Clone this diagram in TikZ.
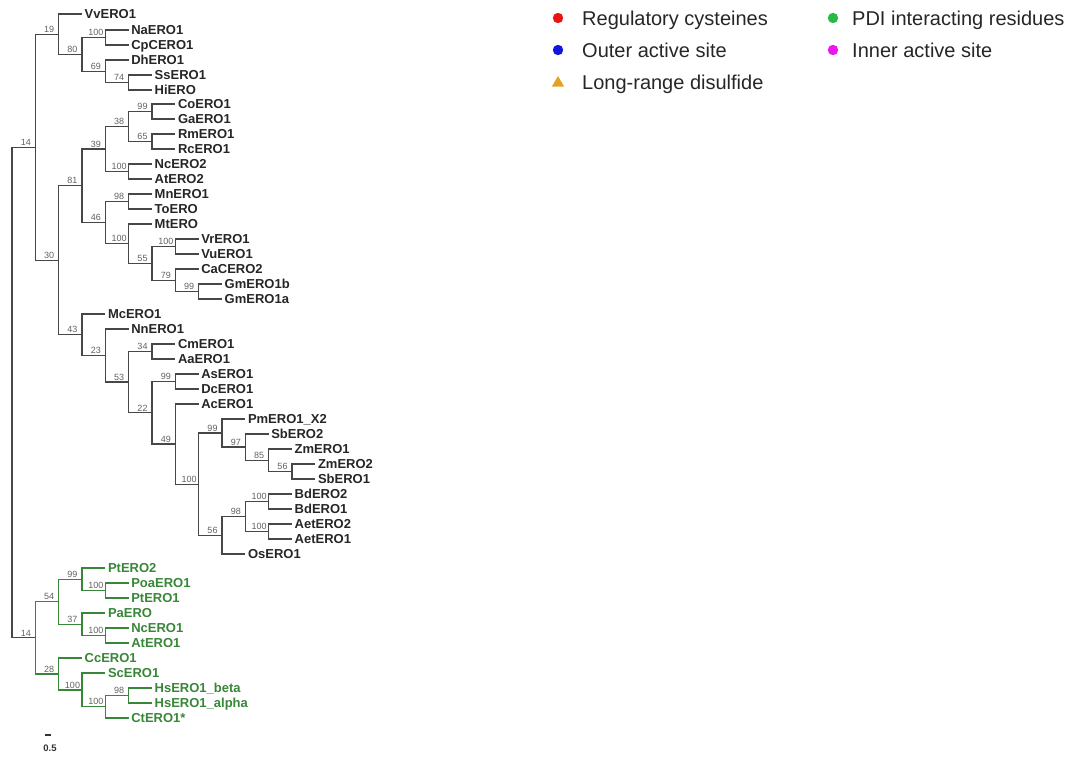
\documentclass[tikz,border=0pt]{standalone}
\usepackage{fontspec}
\setmainfont{Liberation Sans}
\usetikzlibrary{shapes.geometric}
\definecolor{clgreen}{RGB}{56,134,56}
\definecolor{lgred}{RGB}{235,20,20}
\definecolor{lgblue}{RGB}{20,20,225}
\definecolor{lgorange}{RGB}{226,162,34}
\definecolor{lggreen}{RGB}{40,185,70}
\definecolor{lgmag}{RGB}{238,20,238}
\begin{document}
\begin{tikzpicture}[x=1pt,y=-1pt,
  br/.style={line width=1.3pt, draw=black!72},
  gbr/.style={line width=1.3pt, draw=clgreen},
  leaf/.style={anchor=west, inner xsep=2.5pt, inner ysep=0pt, text height=9.4pt, text depth=0pt,
    font=\fontsize{13}{13}\selectfont\bfseries, text=black!85},
  gleaf/.style={leaf, text=clgreen},
  sv/.style={anchor=south, inner sep=0.6pt, yshift=1pt, font=\fontsize{9}{9}\selectfont, text=black!62},
  lg/.style={anchor=west, inner sep=0pt, text height=14.3pt, text depth=0pt,
    font=\fontsize{20}{20}\selectfont, text=black!85}]
\useasboundingbox (0,0) rectangle (1082,758);

% ---------- internal nodes ----------
\coordinate (root) at (12,392.5);
\coordinate (t14) at (35.3,147.3);
\coordinate (n19) at (58.6,34.2);
\coordinate (n80) at (82,54.4);
\coordinate (n100a) at (105.3,37.5);
\coordinate (n69) at (105.3,71.25);
\coordinate (n74) at (128.6,82.5);
\coordinate (n30) at (58.6,260.3);
\coordinate (n81) at (82,185.8);
\coordinate (n39) at (105.3,149);
\coordinate (n38) at (128.6,126.5);
\coordinate (n99a) at (152,111.5);
\coordinate (n65) at (152,141.5);
\coordinate (n100b) at (128.6,171.5);
\coordinate (n46) at (105.3,222.6);
\coordinate (n98a) at (128.6,201.5);
\coordinate (n100c) at (128.6,243.7);
\coordinate (n55) at (152,263.4);
\coordinate (n100d) at (175.3,246.5);
\coordinate (n79) at (175.3,280.25);
\coordinate (n99b) at (198.6,291.5);
\coordinate (n43) at (82,334.8);
\coordinate (n23) at (105.3,355.6);
\coordinate (n53) at (128.6,382.1);
\coordinate (n34) at (152,351.5);
\coordinate (n22) at (152,412.8);
\coordinate (n99c) at (175.3,381.5);
\coordinate (n49) at (175.3,444.1);
\coordinate (n100e) at (198.6,484.2);
\coordinate (n99d) at (222,433.1);
\coordinate (n97) at (245.3,447.1);
\coordinate (n85) at (268.6,460.25);
\coordinate (n56a) at (292,471.5);
\coordinate (n56b) at (222,535.25);
\coordinate (n98b) at (245.3,516.5);
\coordinate (n100f) at (268.6,501.5);
\coordinate (n100g) at (268.6,531.5);
\coordinate (b14) at (35.3,637.8);
\coordinate (n54) at (58.6,601.75);
\coordinate (n99e) at (82,579.25);
\coordinate (n100h) at (105.3,590.5);
\coordinate (n37) at (82,624.25);
\coordinate (n100i) at (105.3,635.5);
\coordinate (n28) at (58.6,673.9);
\coordinate (n100j) at (82,689.9);
\coordinate (n100k) at (105.3,706.75);
\coordinate (n98c) at (128.6,695.5);

% ---------- leaves ----------
\node[leaf] (Vv) at (82,14) {VvERO1};
\node[leaf] (Na) at (128.6,30) {NaERO1};
\node[leaf] (Cp) at (128.6,45) {CpCERO1};
\node[leaf] (Dh) at (128.6,60) {DhERO1};
\node[leaf] (Ss) at (152,75) {SsERO1};
\node[leaf] (Hi) at (152,90) {HiERO};
\node[leaf] (Co) at (175.3,104) {CoERO1};
\node[leaf] (Ga) at (175.3,119) {GaERO1};
\node[leaf] (Rm) at (175.3,134) {RmERO1};
\node[leaf] (Rc) at (175.3,149) {RcERO1};
\node[leaf] (NcB) at (152,164) {NcERO2};
\node[leaf] (AtB) at (152,179) {AtERO2};
\node[leaf] (Mn) at (152,194) {MnERO1};
\node[leaf] (To) at (152,209) {ToERO};
\node[leaf] (Mt) at (152,224) {MtERO};
\node[leaf] (Vr) at (198.6,239) {VrERO1};
\node[leaf] (Vu) at (198.6,254) {VuERO1};
\node[leaf] (CaC) at (198.6,269) {CaCERO2};
\node[leaf] (Gmb) at (222,284) {GmERO1b};
\node[leaf] (Gma) at (222,299) {GmERO1a};
\node[leaf] (Mc) at (105.3,314) {McERO1};
\node[leaf] (Nn) at (128.6,329) {NnERO1};
\node[leaf] (Cm) at (175.3,344) {CmERO1};
\node[leaf] (Aa) at (175.3,359) {AaERO1};
\node[leaf] (As) at (198.6,374) {AsERO1};
\node[leaf] (Dc) at (198.6,389) {DcERO1};
\node[leaf] (Ac) at (198.6,404) {AcERO1};
\node[leaf] (Pm) at (245.3,419) {PmERO1\_X2};
\node[leaf] (SbB) at (268.6,434) {SbERO2};
\node[leaf] (ZmA) at (292,449) {ZmERO1};
\node[leaf] (ZmB) at (315.3,464) {ZmERO2};
\node[leaf] (SbA) at (315.3,479) {SbERO1};
\node[leaf] (BdB) at (292,494) {BdERO2};
\node[leaf] (BdA) at (292,509) {BdERO1};
\node[leaf] (AetB) at (292,524) {AetERO2};
\node[leaf] (AetA) at (292,539) {AetERO1};
\node[leaf] (Os) at (245.3,554) {OsERO1};
\node[gleaf] (PtB) at (105.3,568) {PtERO2};
\node[gleaf] (Poa) at (128.6,583) {PoaERO1};
\node[gleaf] (PtA) at (128.6,598) {PtERO1};
\node[gleaf] (Pa) at (105.3,613) {PaERO};
\node[gleaf] (NcA) at (128.6,628) {NcERO1};
\node[gleaf] (AtA) at (128.6,643) {AtERO1};
\node[gleaf] (Cc) at (82,658) {CcERO1};
\node[gleaf] (Sc) at (105.3,673) {ScERO1};
\node[gleaf] (HsB) at (152,688) {HsERO1\_beta};
\node[gleaf] (HsA) at (152,703) {HsERO1\_alpha};
\node[gleaf] (Ct) at (128.6,718) {CtERO1*};

% ---------- branches (black clade) ----------
\draw[br] (root) |- (t14);
\draw[br] (root) |- (b14);
\draw[br] (t14) |- (n19);
\draw[br] (t14) |- (n30);
\draw[br] (n19) |- (Vv.west);
\draw[br] (n19) |- (n80);
\draw[br] (n80) |- (n100a);
\draw[br] (n80) |- (n69);
\draw[br] (n100a) |- (Na.west);
\draw[br] (n100a) |- (Cp.west);
\draw[br] (n69) |- (Dh.west);
\draw[br] (n69) |- (n74);
\draw[br] (n74) |- (Ss.west);
\draw[br] (n74) |- (Hi.west);
\draw[br] (n30) |- (n81);
\draw[br] (n30) |- (n43);
\draw[br] (n81) |- (n39);
\draw[br] (n81) |- (n46);
\draw[br] (n39) |- (n38);
\draw[br] (n39) |- (n100b);
\draw[br] (n38) |- (n99a);
\draw[br] (n38) |- (n65);
\draw[br] (n99a) |- (Co.west);
\draw[br] (n99a) |- (Ga.west);
\draw[br] (n65) |- (Rm.west);
\draw[br] (n65) |- (Rc.west);
\draw[br] (n100b) |- (NcB.west);
\draw[br] (n100b) |- (AtB.west);
\draw[br] (n46) |- (n98a);
\draw[br] (n46) |- (n100c);
\draw[br] (n98a) |- (Mn.west);
\draw[br] (n98a) |- (To.west);
\draw[br] (n100c) |- (Mt.west);
\draw[br] (n100c) |- (n55);
\draw[br] (n55) |- (n100d);
\draw[br] (n55) |- (n79);
\draw[br] (n100d) |- (Vr.west);
\draw[br] (n100d) |- (Vu.west);
\draw[br] (n79) |- (CaC.west);
\draw[br] (n79) |- (n99b);
\draw[br] (n99b) |- (Gmb.west);
\draw[br] (n99b) |- (Gma.west);
\draw[br] (n43) |- (Mc.west);
\draw[br] (n43) |- (n23);
\draw[br] (n23) |- (Nn.west);
\draw[br] (n23) |- (n53);
\draw[br] (n53) |- (n34);
\draw[br] (n53) |- (n22);
\draw[br] (n34) |- (Cm.west);
\draw[br] (n34) |- (Aa.west);
\draw[br] (n22) |- (n99c);
\draw[br] (n22) |- (n49);
\draw[br] (n99c) |- (As.west);
\draw[br] (n99c) |- (Dc.west);
\draw[br] (n49) |- (Ac.west);
\draw[br] (n49) |- (n100e);
\draw[br] (n100e) |- (n99d);
\draw[br] (n100e) |- (n56b);
\draw[br] (n99d) |- (Pm.west);
\draw[br] (n99d) |- (n97);
\draw[br] (n97) |- (SbB.west);
\draw[br] (n97) |- (n85);
\draw[br] (n85) |- (ZmA.west);
\draw[br] (n85) |- (n56a);
\draw[br] (n56a) |- (ZmB.west);
\draw[br] (n56a) |- (SbA.west);
\draw[br] (n56b) |- (n98b);
\draw[br] (n56b) |- (Os.west);
\draw[br] (n98b) |- (n100f);
\draw[br] (n98b) |- (n100g);
\draw[br] (n100f) |- (BdB.west);
\draw[br] (n100f) |- (BdA.west);
\draw[br] (n100g) |- (AetB.west);
\draw[br] (n100g) |- (AetA.west);

% ---------- branches (green clade) ----------
\draw[gbr] (b14) |- (n54);
\draw[gbr] (b14) |- (n28);
\draw[gbr] (n54) |- (n99e);
\draw[gbr] (n54) |- (n37);
\draw[gbr] (n99e) |- (PtB.west);
\draw[gbr] (n99e) |- (n100h);
\draw[gbr] (n100h) |- (Poa.west);
\draw[gbr] (n100h) |- (PtA.west);
\draw[gbr] (n37) |- (Pa.west);
\draw[gbr] (n37) |- (n100i);
\draw[gbr] (n100i) |- (NcA.west);
\draw[gbr] (n100i) |- (AtA.west);
\draw[gbr] (n28) |- (Cc.west);
\draw[gbr] (n28) |- (n100j);
\draw[gbr] (n100j) |- (Sc.west);
\draw[gbr] (n100j) |- (n100k);
\draw[gbr] (n100k) |- (n98c);
\draw[gbr] (n100k) |- (Ct.west);
\draw[gbr] (n98c) |- (HsB.west);
\draw[gbr] (n98c) |- (HsA.west);

% ---------- support values ----------
\foreach \n/\v in {t14/14, n19/19, n80/80, n100a/100, n69/69, n74/74, n30/30, n81/81,
  n39/39, n38/38, n99a/99, n65/65, n100b/100, n46/46, n98a/98, n100c/100, n55/55,
  n100d/100, n79/79, n99b/99, n43/43, n23/23, n53/53, n34/34, n22/22, n99c/99,
  n49/49, n100e/100, n99d/99, n97/97, n85/85, n56a/56, n56b/56, n98b/98,
  n100f/100, n100g/100, b14/14, n54/54, n99e/99, n100h/100, n37/37, n100i/100,
  n28/28, n100j/100, n100k/100, n98c/98}
  \node[sv] (lab-\n) at ([xshift=-9.5pt]\n) {\v};

% ---------- scale bar ----------
\coordinate (sbl) at (45,735);
\coordinate (sbr) at (51,735);
\draw[line width=1.2pt, black!80] (sbl) -- (sbr);
\node[font=\fontsize{9.5}{9.5}\selectfont\bfseries, text=black!80, inner sep=0pt] (sbt) at (50,748) {0.5};

% ---------- legend ----------
\fill[lgred] (558,18) circle (5.2) coordinate (d1);
\fill[lgblue] (558,50) circle (5.2) coordinate (d2);
\node[regular polygon, regular polygon sides=3, fill=lgorange, inner sep=0pt, minimum size=14pt] (d3) at (558,83) {};
\fill[lggreen] (833,18) circle (5.2) coordinate (d4);
\fill[lgmag] (833,50) circle (5.2) coordinate (d5);
\node[lg] (t1) at (582,18) {Regulatory cysteines};
\node[lg] (t2) at (582,50) {Outer active site};
\node[lg] (t3) at (582,82) {Long-range disulfide};
\node[lg] (t4) at (852,18) {PDI interacting residues};
\node[lg] (t5) at (852,50) {Inner active site};
\end{tikzpicture}
\end{document}
